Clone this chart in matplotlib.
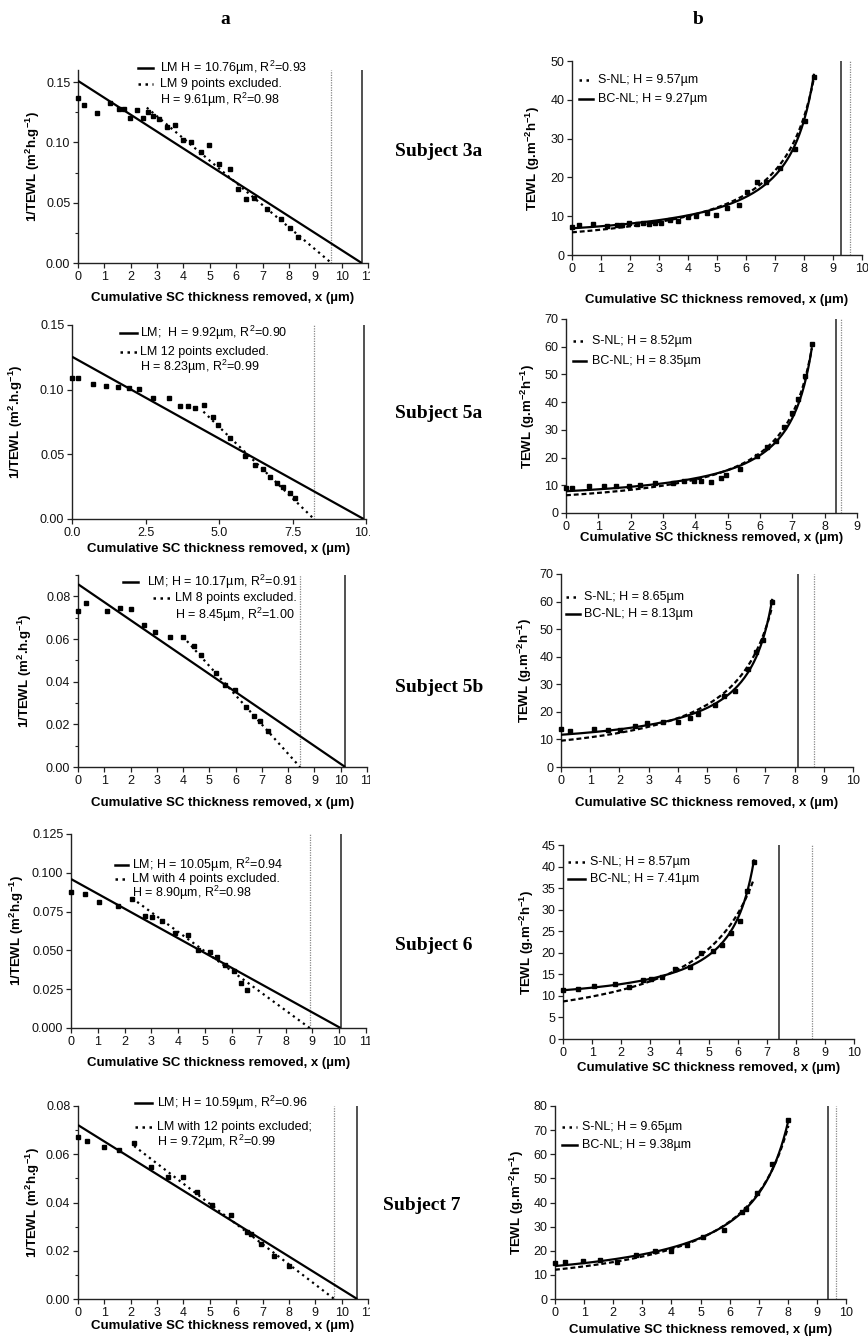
import numpy as np
import matplotlib
matplotlib.use("Agg")
import matplotlib.pyplot as plt
from matplotlib.lines import Line2D
from matplotlib.patches import Rectangle
from matplotlib.ticker import FixedLocator, FormatStrFormatter

# ---------------- data ----------------
subjects = ['Subject 3a', 'Subject 5a', 'Subject 5b', 'Subject 6', 'Subject 7']

s3a_x = [0, 0.24, 0.72, 1.22, 1.55, 1.73, 1.96, 2.25, 2.46, 2.66, 2.85, 3.07, 3.37, 3.67,
         3.99, 4.29, 4.66, 4.97, 5.35, 5.77, 6.05, 6.38, 6.68, 7.18, 7.70, 8.04, 8.34]
s3a_tewl = [7.31, 7.63, 8.02, 7.53, 7.81, 7.85, 8.31, 7.90, 8.33, 7.97, 8.22, 8.35, 8.90, 8.73,
            9.77, 9.95, 10.9, 10.2, 12.2, 12.9, 16.3, 18.9, 18.7, 22.4, 27.4, 34.5, 46.0]

s5a_x = [0, 0.2, 0.72, 1.17, 1.56, 1.95, 2.29, 2.76, 3.3, 3.66, 3.96, 4.18, 4.48, 4.78,
         4.96, 5.38, 5.9, 6.22, 6.5, 6.75, 6.98, 7.18, 7.4, 7.6]
s5a_tewl = [9.15, 9.17, 9.57, 9.69, 9.79, 9.84, 9.97, 10.7, 10.7, 11.4, 11.4, 11.7, 11.3, 12.7,
            13.8, 15.9, 20.5, 23.8, 26.0, 31.0, 36.0, 41.0, 49.5, 61.0]

s5b_x = [0, 0.32, 1.12, 1.6, 2.03, 2.53, 2.94, 3.5, 3.99, 4.42, 4.68, 5.27, 5.59, 5.96,
         6.4, 6.69, 6.92, 7.23]
s5b_tewl = [13.7, 13.0, 13.7, 13.4, 13.5, 15.0, 15.8, 16.4, 16.4, 17.6, 19.1, 22.6, 25.9, 27.7,
            35.6, 41.8, 46.0, 60.0]

s6_x = [0, 0.52, 1.06, 1.77, 2.27, 2.75, 3.02, 3.4, 3.86, 4.37, 4.73, 5.17, 5.45, 5.76,
        6.08, 6.33, 6.56]
s6_tewl = [11.43, 11.6, 12.35, 12.7, 12.0, 13.8, 14.0, 14.45, 16.3, 16.7, 19.85, 20.3, 21.8, 24.7,
           27.4, 34.3, 41.0]

s7_x = [0, 0.34, 0.97, 1.56, 2.13, 2.77, 3.42, 4.0, 4.52, 5.1, 5.8, 6.42, 6.55, 6.95, 7.45, 8.02]
s7_tewl = [14.9, 15.3, 15.9, 16.2, 15.5, 18.3, 19.8, 19.7, 22.5, 25.8, 28.8, 36.0, 37.2, 44.0,
           55.9, 74.1]

xs = [s3a_x, s5a_x, s5b_x, s6_x, s7_x]
tewls = [s3a_tewl, s5a_tewl, s5b_tewl, s6_tewl, s7_tewl]

# linear models (1/TEWL vs x): intercept, H; partial fit start point and H
lm_a = [0.151, 0.1255, 0.0857, 0.096, 0.0721]
lm_H = [10.76, 9.92, 10.17, 10.05, 10.59]
lm2_x0 = [2.61, 4.47, 3.99, 2.28, 2.13]
lm2_y0 = [0.1288, 0.083, 0.0612, 0.0836, 0.0634]
lm2_H = [9.61, 8.23, 8.45, 8.90, 9.72]

# non-linear models: S-NL  TEWL = A/(H-x) ; BC-NL TEWL = A/(H-x) + B
snl_H = [9.57, 8.52, 8.65, 8.57, 9.65]
snl_A = [55.9, 54.5, 82.4, 74.6, 117.0]
bc_H = [9.27, 8.35, 8.13, 7.41, 9.38]
bc_A = [40.9, 42.5, 49.5, 28.9, 96.0]
bc_B = [2.46, 2.76, 5.6, 7.4, 3.42]

left_legend = [
    ['LM H = 10.76µm, R$^2$=0.93', 'LM 9 points excluded.', 'H = 9.61µm, R$^2$=0.98'],
    ['LM;  H = 9.92µm, R$^2$=0.90', 'LM 12 points excluded.', 'H = 8.23µm, R$^2$=0.99'],
    ['LM; H = 10.17µm, R$^2$=0.91', 'LM 8 points excluded.', 'H = 8.45µm, R$^2$=1.00'],
    ['LM; H = 10.05µm, R$^2$=0.94', 'LM with 4 points excluded.', 'H = 8.90µm, R$^2$=0.98'],
    ['LM; H = 10.59µm, R$^2$=0.96', 'LM with 12 points excluded;', 'H = 9.72µm, R$^2$=0.99'],
]
right_legend = [
    ['S-NL; H = 9.57µm', 'BC-NL; H = 9.27µm'],
    ['S-NL; H = 8.52µm', 'BC-NL; H = 8.35µm'],
    ['S-NL; H = 8.65µm', 'BC-NL; H = 8.13µm'],
    ['S-NL; H = 8.57µm', 'BC-NL; H = 7.41µm'],
    ['S-NL; H = 9.65µm', 'BC-NL; H = 9.38µm'],
]
left_ylabels = [r'1/TEWL (m$^{\mathbf{2}}$h.g$^{\mathbf{-1}}$)',
                r'1/TEWL (m$^{\mathbf{2}}$.h.g$^{\mathbf{-1}}$)',
                r'1/TEWL (m$^{\mathbf{2}}$.h.g$^{\mathbf{-1}}$)',
                r'1/TEWL (m$^{\mathbf{2}}$h.g$^{\mathbf{-1}}$)',
                r'1/TEWL (m$^{\mathbf{2}}$h.g$^{\mathbf{-1}}$)']
right_ylabel = r'TEWL (g.m$^{\mathbf{-2}}$h$^{\mathbf{-1}}$)'
xlabel = 'Cumulative SC thickness removed, x (µm)'

left_yticks = [[0, 0.05, 0.10, 0.15], [0, 0.05, 0.10, 0.15], [0, 0.02, 0.04, 0.06, 0.08],
               [0, 0.025, 0.05, 0.075, 0.10, 0.125], [0, 0.02, 0.04, 0.06, 0.08]]
left_yfmt = ['%.2f', '%.2f', '%.2f', '%.3f', '%.2f']
left_yminor = [[0.025, 0.075, 0.125], [], [0.01, 0.03, 0.05, 0.07, 0.09], [], [0.01, 0.03, 0.05, 0.07]]
left_xticks = [list(range(12)), [0, 2.5, 5.0, 7.5, 10.0], list(range(12)), list(range(12)), list(range(12))]
left_xfmt = ['%d', '%.1f', '%d', '%d', '%d']
right_yticks = [list(range(0, 51, 10)), list(range(0, 71, 10)), list(range(0, 71, 10)),
                list(range(0, 46, 5)), list(range(0, 81, 10))]
right_xticks = [list(range(11)), list(range(10)), list(range(11)), list(range(11)), list(range(11))]

# ---------------- layout (pixels) ----------------
W, HH = 868, 1342
left_box = [(78, 368, 70, 263), (72, 366, 325, 519), (78, 367, 575, 767), (71, 366, 834, 1028), (78, 368, 1106, 1299)]
left_ylim = [0.16, 0.15, 0.09, 0.125, 0.08]
left_xlim = [11, 10, 11, 11, 11]
right_box = [(572, 862, 61, 255), (566, 857, 319, 513), (561, 853, 574, 767), (563, 854, 845, 1039), (555, 846, 1106, 1299)]
right_ylim = [50, 70, 70, 45, 80]
right_xlim = [10, 9, 10, 10, 10]

left_leg_pos = [  # (sample x0, x1, text x) for rows 1 and 2, then row ys
    ((138, 153, 160), (138, 153, 160), (68, 84, 100)),
    ((120, 137, 140), (120, 137, 140), (333, 352, 367)),
    ((123, 138, 147), (153, 170, 175), (582, 598, 615)),
    ((115, 128, 132), (115, 128, 132), (865, 879, 893)),
    ((135, 152, 157), (135, 152, 157), (1103, 1127, 1142)),
]
right_leg_pos = [((579, 593, 598), (80, 99)), ((573, 586, 592), (341, 361)), ((566, 580, 584), (597, 614)),
                 ((568, 585, 590), (862, 879)), ((562, 577, 582), (1127, 1145))]
left_xlab_y = [298, 549, 803, 1063, 1326]
right_xlab_y = [300, 538, 803, 1068, 1330]
left_ylab_x = [33, 16, 25, 17, 33]
right_ylab_x = [533, 528, 525, 527, 517]
subj_pos = [(395, 152), (395, 413), (395, 688), (395, 945), (383, 1205)]

SANS = ['Liberation Sans', 'DejaVu Sans']
SERIF = ['Liberation Serif', 'DejaVu Serif']
plt.rcParams['font.family'] = SANS
plt.rcParams['mathtext.fontset'] = 'custom'
plt.rcParams['mathtext.rm'] = 'Liberation Sans'
plt.rcParams['mathtext.it'] = 'Liberation Sans:italic'
plt.rcParams['mathtext.bf'] = 'Liberation Sans:bold'

fig = plt.figure(figsize=(W / 100, HH / 100), dpi=100)

def fx(x):
    return x / W

def fy(y):
    return 1 - y / HH

TICK_FS = 9
LEG_FS = 9
LAB_FS = 9.5
SPINE_C = '#222222'
DOT = (0, (1, 1.8))
DASH = (0, (2.2, 1.3))
MS = 3.4

def style_axes(ax):
    for s in ['top', 'right']:
        ax.spines[s].set_visible(False)
    for s in ['left', 'bottom']:
        ax.spines[s].set_color(SPINE_C)
        ax.spines[s].set_linewidth(1.0)
    ax.tick_params(which='major', direction='out', length=3.5, width=0.9, color=SPINE_C,
                   labelsize=TICK_FS, pad=2, labelcolor='#111111')
    ax.tick_params(which='minor', direction='out', length=2.2, width=0.8, color=SPINE_C)
    ax.patch.set_alpha(0)

def fig_line(x0, x1, y, ls, lw=1.6, color='black'):
    fig.add_artist(Line2D([fx(x0), fx(x1)], [fy(y), fy(y)], transform=fig.transFigure,
                          color=color, lw=lw, linestyle=ls))

def fig_text(x, y, s, **kw):
    fig.text(fx(x), fy(y), s, **kw)

for i in range(5):
    x = np.array(xs[i])
    t = np.array(tewls[i])

    # ---------- left: 1/TEWL linear ----------
    x0, x1, yt, yb = left_box[i]
    ax = fig.add_axes([fx(x0), fy(yb), (x1 - x0) / W, (yb - yt) / HH])
    style_axes(ax)
    ax.set_xlim(0, left_xlim[i])
    ax.set_ylim(0, left_ylim[i])
    ax.plot([0, lm_H[i]], [lm_a[i], 0], color='black', lw=1.6, zorder=3, solid_capstyle='butt')
    ax.plot([lm2_x0[i], lm2_H[i]], [lm2_y0[i], 0], color='black', lw=1.6, linestyle=DOT, zorder=3)
    ax.plot([lm_H[i], lm_H[i]], [0, left_ylim[i]], color='#222222', lw=1.1, zorder=2)
    ax.plot([lm2_H[i], lm2_H[i]], [0, left_ylim[i]], color='#888888', lw=0.9,
            linestyle=(0, (1, 1)), zorder=2)
    ax.plot(x, 1.0 / t, 's', color='black', ms=MS, zorder=4, clip_on=False)
    ax.xaxis.set_major_locator(FixedLocator(left_xticks[i]))
    ax.xaxis.set_major_formatter(FormatStrFormatter(left_xfmt[i]))
    ax.yaxis.set_major_locator(FixedLocator(left_yticks[i]))
    ax.yaxis.set_major_formatter(FormatStrFormatter(left_yfmt[i]))
    if left_yminor[i]:
        ax.yaxis.set_minor_locator(FixedLocator(left_yminor[i]))
    # white mask over the cut-off last tick label (reference is cropped there)
    fig.add_artist(Rectangle((fx(370), fy(yb + 24)), 14 / W, 18 / HH, transform=fig.transFigure,
                             facecolor='white', edgecolor='none', zorder=20))

    (a0, a1, ax_t), (b0, b1, bx_t), (ry1, ry2, ry3) = left_leg_pos[i]
    fig_line(a0, a1, ry1, '-', lw=1.8)
    fig_line(b0, b1, ry2, DOT, lw=1.8)
    fig_text(ax_t, ry1, left_legend[i][0], fontsize=LEG_FS, va='center', ha='left')
    fig_text(bx_t, ry2, left_legend[i][1], fontsize=LEG_FS, va='center', ha='left')
    fig_text(bx_t, ry3, left_legend[i][2], fontsize=LEG_FS, va='center', ha='left')

    fig_text((x0 + x1) / 2, left_xlab_y[i], xlabel, fontsize=LAB_FS, fontweight='bold',
             ha='center', va='center')
    fig_text(left_ylab_x[i], (yt + yb) / 2, left_ylabels[i], fontsize=LAB_FS, fontweight='bold',
             ha='center', va='center', rotation=90)

    # ---------- right: TEWL non-linear ----------
    x0, x1, yt, yb = right_box[i]
    ax = fig.add_axes([fx(x0), fy(yb), (x1 - x0) / W, (yb - yt) / HH])
    style_axes(ax)
    ax.set_xlim(0, right_xlim[i])
    ax.set_ylim(0, right_ylim[i])
    xc = np.linspace(0, x.max(), 200)
    ax.plot(xc, snl_A[i] / (snl_H[i] - xc), color='black', lw=1.6, linestyle=DASH, zorder=3)
    ax.plot(xc, bc_A[i] / (bc_H[i] - xc) + bc_B[i], color='black', lw=1.6, zorder=3)
    ax.plot([bc_H[i], bc_H[i]], [0, right_ylim[i]], color='#222222', lw=1.1, zorder=2)
    ax.plot([snl_H[i], snl_H[i]], [0, right_ylim[i]], color='#888888', lw=0.9,
            linestyle=(0, (1, 1)), zorder=2)
    ax.plot(x, t, 's', color='black', ms=MS, zorder=4, clip_on=False)
    ax.xaxis.set_major_locator(FixedLocator(right_xticks[i]))
    ax.xaxis.set_major_formatter(FormatStrFormatter('%d'))
    ax.yaxis.set_major_locator(FixedLocator(right_yticks[i]))
    ax.yaxis.set_major_formatter(FormatStrFormatter('%d'))

    (c0, c1, cx_t), (ry1, ry2) = right_leg_pos[i]
    fig_line(c0, c1, ry1, DOT, lw=1.8)
    fig_line(c0, c1, ry2, '-', lw=1.8)
    fig_text(cx_t, ry1, right_legend[i][0], fontsize=LEG_FS, va='center', ha='left')
    fig_text(cx_t, ry2, right_legend[i][1], fontsize=LEG_FS, va='center', ha='left')

    fig_text((x0 + x1) / 2, right_xlab_y[i], xlabel, fontsize=LAB_FS, fontweight='bold',
             ha='center', va='center')
    fig_text(right_ylab_x[i], (yt + yb) / 2, right_ylabel, fontsize=LAB_FS, fontweight='bold',
             ha='center', va='center', rotation=90)

    # subject label
    sx, sy = subj_pos[i]
    fig_text(sx, sy, subjects[i], fontsize=14, fontweight='bold', family=SERIF,
             ha='left', va='center')

fig_text(225, 20, 'a', fontsize=14, fontweight='bold', family=SERIF, ha='center', va='center')
fig_text(698, 20, 'b', fontsize=14, fontweight='bold', family=SERIF, ha='center', va='center')

fig.savefig('out.png', dpi=100, facecolor='white')
